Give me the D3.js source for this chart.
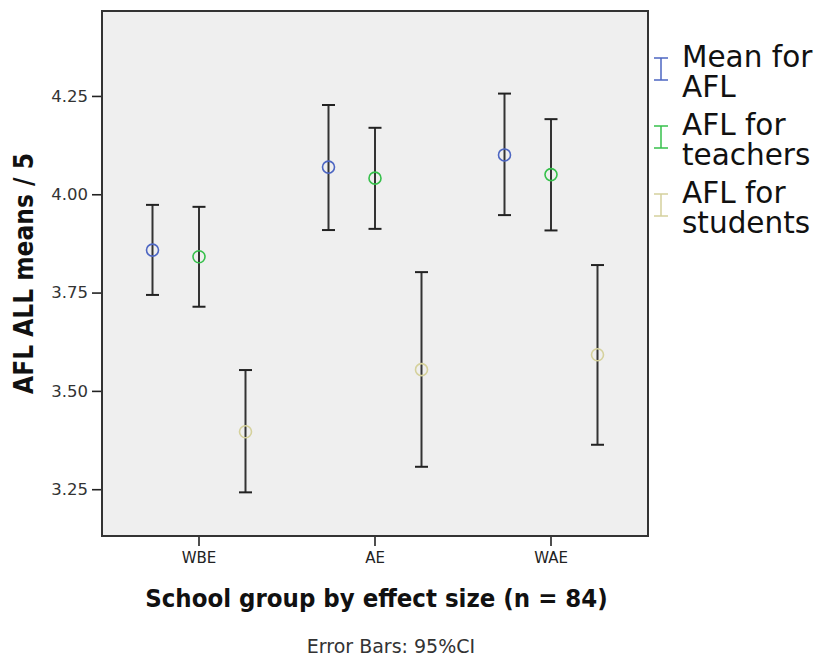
<!DOCTYPE html>
<html>
<head>
<meta charset="utf-8">
<script src="https://cdn.jsdelivr.net/npm/d3@7"></script>
<style>
  html, body { margin: 0; padding: 0; background: #ffffff; }
  svg { display: block; }
</style>
</head>
<body>
<svg id="chart" width="816" height="658"></svg>
<script>
// School groups on the x axis
const groups = ["WBE", "AE", "WAE"];

// Series shown in each cluster (legend labels wrap onto two lines)
const seriesKeys = ["mean", "teachers", "students"];
const seriesLabels = [["Mean for", "AFL"], ["AFL for", "teachers"], ["AFL for", "students"]];
const seriesColors = ["#4d66c2", "#36c04b", "#d5d19c"];

// Means and 95% confidence limits, one value per group
const meanAFL      = [3.858, 4.069, 4.100];
const meanAFLLow   = [3.744, 3.909, 3.947];
const meanAFLHigh  = [3.973, 4.227, 4.256];

const teachersAFL     = [3.841, 4.041, 4.050];
const teachersAFLLow  = [3.714, 3.912, 3.908];
const teachersAFLHigh = [3.968, 4.169, 4.191];

const studentsAFL     = [3.396, 3.554, 3.592];
const studentsAFLLow  = [3.242, 3.307, 3.363];
const studentsAFLHigh = [3.553, 3.802, 3.820];

const yTicks = [3.25, 3.50, 3.75, 4.00, 4.25];
const yDomain = [3.131, 4.466];

const yTitle = "AFL ALL means / 5";
const xTitle = "School group by effect size (n = 84)";
const footnote = "Error Bars: 95%CI";

// Build the row table used for drawing
const seriesData = {
  mean:     { m: meanAFL,     lo: meanAFLLow,     hi: meanAFLHigh },
  teachers: { m: teachersAFL, lo: teachersAFLLow, hi: teachersAFLHigh },
  students: { m: studentsAFL, lo: studentsAFLLow, hi: studentsAFLHigh }
};
const rows = [];
groups.forEach((g, gi) => {
  seriesKeys.forEach((k, si) => {
    rows.push({ group: g, key: k, color: seriesColors[si],
      mean: seriesData[k].m[gi], lo: seriesData[k].lo[gi], hi: seriesData[k].hi[gi] });
  });
});

const svg = d3.select("#chart");
const plot = { left: 102, top: 11, right: 648, bottom: 536 };

const y = d3.scaleLinear().domain(yDomain).range([plot.bottom, plot.top]);
const x = d3.scaleBand().domain(groups).range([111, 639]).paddingInner(0).paddingOuter(0);
const xSub = d3.scaleBand().domain(seriesKeys).range([-69.75, 69.75]);
const cx = d => x(d.group) + x.bandwidth() / 2 + xSub(d.key) + xSub.bandwidth() / 2;

const FONT = "'DejaVu Sans', sans-serif";
const BOLD = "'DejaVu Sans Condensed', 'DejaVu Sans', sans-serif";

// Plot background
svg.append("rect")
  .attr("x", plot.left).attr("y", plot.top)
  .attr("width", plot.right - plot.left).attr("height", plot.bottom - plot.top)
  .attr("fill", "#efefef");

// Y axis
const yAxis = svg.append("g")
  .attr("transform", `translate(${plot.left},0)`)
  .call(d3.axisLeft(y).tickValues(yTicks).tickFormat(d3.format(".2f")).tickSize(10).tickPadding(4));
yAxis.select(".domain").remove();
yAxis.selectAll(".tick line").attr("stroke", "#222").attr("stroke-width", 1.6);
yAxis.selectAll(".tick text").attr("font-family", FONT).attr("font-size", 16.5).attr("fill", "#333");

// X axis
const xAxis = svg.append("g")
  .attr("transform", `translate(0,${plot.bottom})`)
  .call(d3.axisBottom(x).tickSize(10).tickPadding(6));
xAxis.select(".domain").remove();
xAxis.selectAll(".tick line").attr("stroke", "#222").attr("stroke-width", 1.6);
xAxis.selectAll(".tick text").attr("font-family", FONT).attr("font-size", 15).attr("fill", "#222");

// Error bars
const bars = svg.append("g").selectAll("g.bar").data(rows).join("g").attr("class", "bar");
const capHalf = 6.5;
bars.append("line")
  .attr("x1", cx).attr("x2", cx)
  .attr("y1", d => y(d.lo)).attr("y2", d => y(d.hi))
  .attr("stroke", "#333").attr("stroke-width", 2);
bars.append("line")
  .attr("x1", d => cx(d) - capHalf).attr("x2", d => cx(d) + capHalf)
  .attr("y1", d => y(d.hi)).attr("y2", d => y(d.hi))
  .attr("stroke", "#222").attr("stroke-width", 2);
bars.append("line")
  .attr("x1", d => cx(d) - capHalf).attr("x2", d => cx(d) + capHalf)
  .attr("y1", d => y(d.lo)).attr("y2", d => y(d.lo))
  .attr("stroke", "#222").attr("stroke-width", 2);
bars.append("circle")
  .attr("cx", cx).attr("cy", d => y(d.mean)).attr("r", 6)
  .attr("fill", "none").attr("stroke", d => d.color).attr("stroke-width", 1.6);

// Plot frame
svg.append("rect")
  .attr("x", plot.left).attr("y", plot.top)
  .attr("width", plot.right - plot.left).attr("height", plot.bottom - plot.top)
  .attr("fill", "none").attr("stroke", "#333").attr("stroke-width", 2);

// Axis titles and footnote
svg.append("text")
  .attr("transform", `translate(33,${(plot.top + plot.bottom) / 2 + 0}) rotate(-90)`)
  .attr("text-anchor", "middle")
  .attr("font-family", BOLD).attr("font-weight", "bold").attr("font-size", 26)
  .attr("fill", "#111").text(yTitle);

svg.append("text")
  .attr("x", 376.5).attr("y", 607)
  .attr("text-anchor", "middle")
  .attr("font-family", BOLD).attr("font-weight", "bold").attr("font-size", 25.5)
  .attr("fill", "#111").text(xTitle);

svg.append("text")
  .attr("x", 391).attr("y", 653)
  .attr("text-anchor", "middle")
  .attr("font-family", FONT).attr("font-size", 19)
  .attr("fill", "#333").text(footnote);

// Legend
const legend = svg.append("g");
const itemStep = 68, lineStep = 30, firstBaseline = 67;
const items = legend.selectAll("g").data(seriesKeys).join("g")
  .attr("transform", (d, i) => `translate(0,${firstBaseline + i * itemStep})`);
items.each(function (d, i) {
  const g = d3.select(this);
  const c = seriesColors[i];
  const top = -9, bot = 13, mid = 661;
  g.append("line").attr("x1", mid).attr("x2", mid).attr("y1", top).attr("y2", bot)
    .attr("stroke", c).attr("stroke-width", 1.5);
  g.append("line").attr("x1", mid - 7).attr("x2", mid + 7).attr("y1", top).attr("y2", top)
    .attr("stroke", c).attr("stroke-width", 1.5);
  g.append("line").attr("x1", mid - 7).attr("x2", mid + 7).attr("y1", bot).attr("y2", bot)
    .attr("stroke", c).attr("stroke-width", 1.5);
  const t = g.append("text").attr("x", 682).attr("y", 0)
    .attr("font-family", FONT).attr("font-size", 29.5).attr("fill", "#111");
  seriesLabels[i].forEach((line, li) => {
    t.append("tspan").attr("x", 682).attr("dy", li === 0 ? 0 : lineStep).text(line);
  });
});
</script>
</body>
</html>
